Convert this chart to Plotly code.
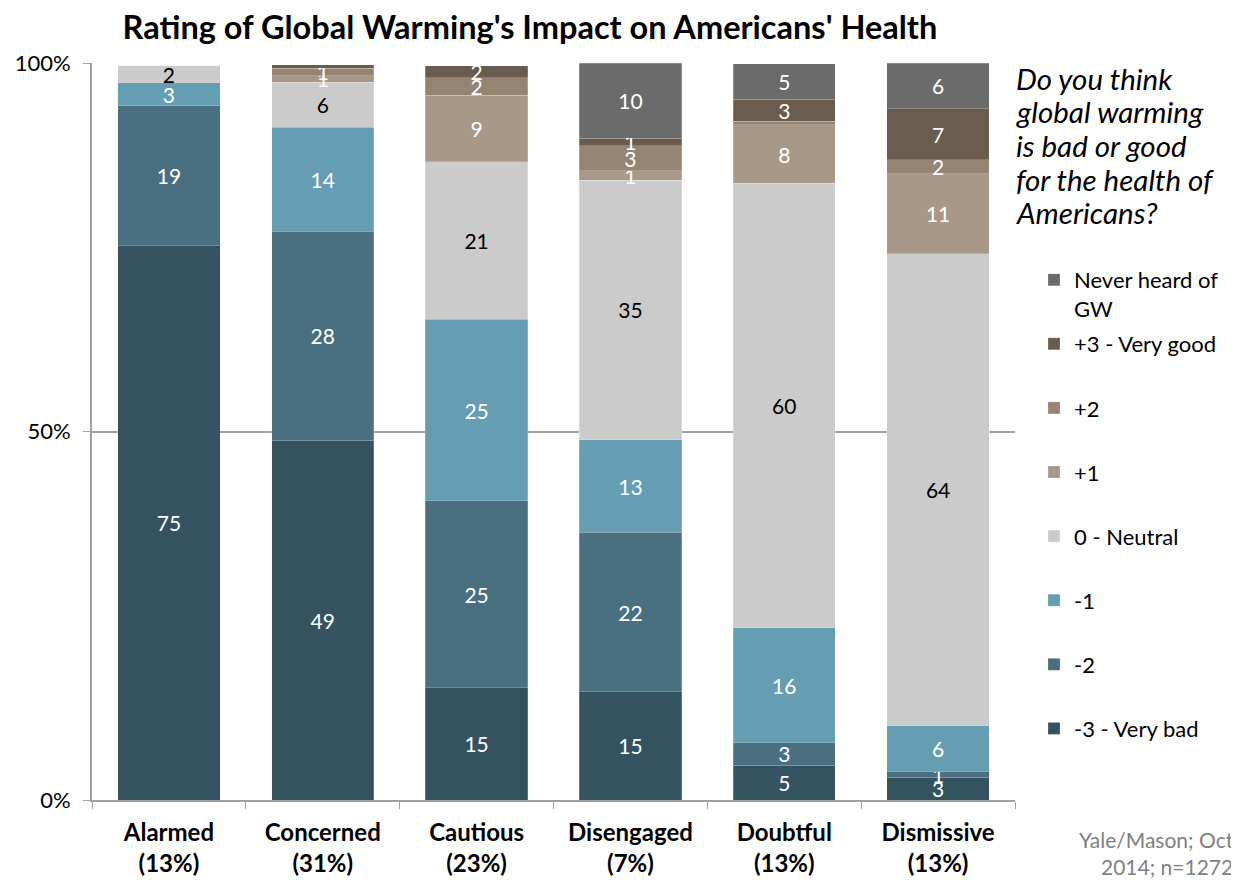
import plotly.graph_objects as go

categories = ["Alarmed<br>(13%)", "Concerned<br>(31%)", "Cautious<br>(23%)", "Disengaged<br>(7%)",
              "Doubtful<br>(13%)", "Dismissive<br>(13%)"]

series_names = ["-3 - Very bad", "-2", "-1", "0 - Neutral", "+1", "+2", "+3 - Very good", "Never heard of<br>GW"]

# shares (%) per segment (labels show rounded values)
very_bad = [75.2, 48.8, 15.2, 14.7, 4.7, 3.1]
minus2 = [19.0, 28.4, 25.4, 21.6, 3.1, 0.7]
minus1 = [3.1, 14.1, 24.6, 12.6, 15.6, 6.3]
neutral = [2.4, 6.1, 21.4, 35.2, 60.3, 64.0]
plus1 = [0, 0.9, 9.0, 1.3, 7.9, 10.9]
plus2 = [0, 1.0, 2.4, 3.4, 0.5, 1.9]
very_good = [0, 0.45, 1.6, 1.0, 3.0, 6.9]
never_heard = [0, 0, 0, 10.2, 4.8, 6.2]

y_tick_vals = [0, 50, 100]
y_tick_text = ["0%", "50%", "100%"]

question_lines = ["Do you think", "global warming", "is bad or good", "for the health of", "Americans?"]
source_text = "Yale/Mason; Oct<br>2014; n=1272"

series_values = [very_bad, minus2, minus1, neutral, plus1, plus2, very_good, never_heard]
colors = ["#34525f", "#4a6f80", "#659db3", "#cbcbcb", "#a89888", "#968473", "#695b4e", "#6b6b6b"]
text_colors = ["white", "white", "white", "black", "white", "white", "white", "white"]

FONT = "Lato"

fig = go.Figure()
n = len(series_names)
for i, (name, vals, col, tcol) in enumerate(zip(series_names, series_values, colors, text_colors)):
    fig.add_trace(go.Bar(
        x=categories, y=vals, name=name, legendgroup=name, legendrank=1000 - i,
        legend="legend2" if i == n - 1 else "legend",
        marker=dict(color=col, line=dict(width=0.6, color="rgba(255,255,255,0.35)")),
        text=[str(round(v)) if round(v) >= 1 else "" for v in vals],
        textposition="inside", insidetextanchor="middle", textangle=0,
        textfont=dict(color=tcol, size=21, family=FONT),
        hoverinfo="skip",
    ))

fig.update_layout(
    barmode="stack", bargap=0.335,
    width=1231, height=876,
    margin=dict(l=84, r=224, t=55, b=84, autoexpand=False),
    plot_bgcolor="white", paper_bgcolor="white",
    font=dict(family=FONT, size=20, color="black"),
    uniformtext=dict(mode="show", minsize=21),
    title=dict(text="<b>Rating of Global Warming's Impact on Americans' Health</b>",
               x=0.424, xanchor="center", y=0.978, yanchor="middle",
               font=dict(size=32.5, family=FONT, color="black")),
    legend=dict(x=1.0206, xanchor="left", y=0.6472, yanchor="top", traceorder="grouped",
                tracegroupgap=32.5, font=dict(size=22, family=FONT), itemwidth=30,
                bgcolor="rgba(0,0,0,0)"),
    legend2=dict(x=1.0206, xanchor="left", y=0.734, yanchor="top", valign="top",
                 font=dict(size=22, family=FONT), itemwidth=30, bgcolor="rgba(0,0,0,0)"),
    showlegend=True,
)
fig.update_xaxes(showline=True, linecolor="#a0a0a0", linewidth=2, ticks="outside",
                 tickson="boundaries", tickcolor="#a0a0a0", ticklen=7, automargin=False,
                 tickfont=dict(size=24, family=FONT), fixedrange=True, ticklabelstandoff=10,
                 ticktext=["<b>" + c + "</b>" for c in categories], tickvals=categories)
fig.update_yaxes(range=[0, 100], tickvals=y_tick_vals, ticktext=y_tick_text, showline=True,
                 linecolor="#a0a0a0", linewidth=2, ticks="outside", tickcolor="#a0a0a0",
                 ticklen=7, showgrid=True, gridcolor="#a0a0a0", gridwidth=2, automargin=False,
                 ticklabelstandoff=8, tickfont=dict(size=22, family=FONT), zeroline=False)

# question text, one annotation per line (page y centres 78..213)
for k, line in enumerate(question_lines):
    py = 78 + k * 33.75
    fig.add_annotation(text="<i>" + line + "</i>", xref="paper", yref="paper",
                       x=0.999, y=1 - (py - 63) / 737, xanchor="left", yanchor="middle",
                       align="left", showarrow=False,
                       font=dict(size=29.5, family=FONT, color="black"))
fig.add_annotation(text=source_text, xref="paper", yref="paper",
                   x=1.2395, y=-0.034, xanchor="right", yanchor="top", align="right",
                   showarrow=False, font=dict(size=21, family=FONT, color="#808080"))

fig.write_html("out.html")
